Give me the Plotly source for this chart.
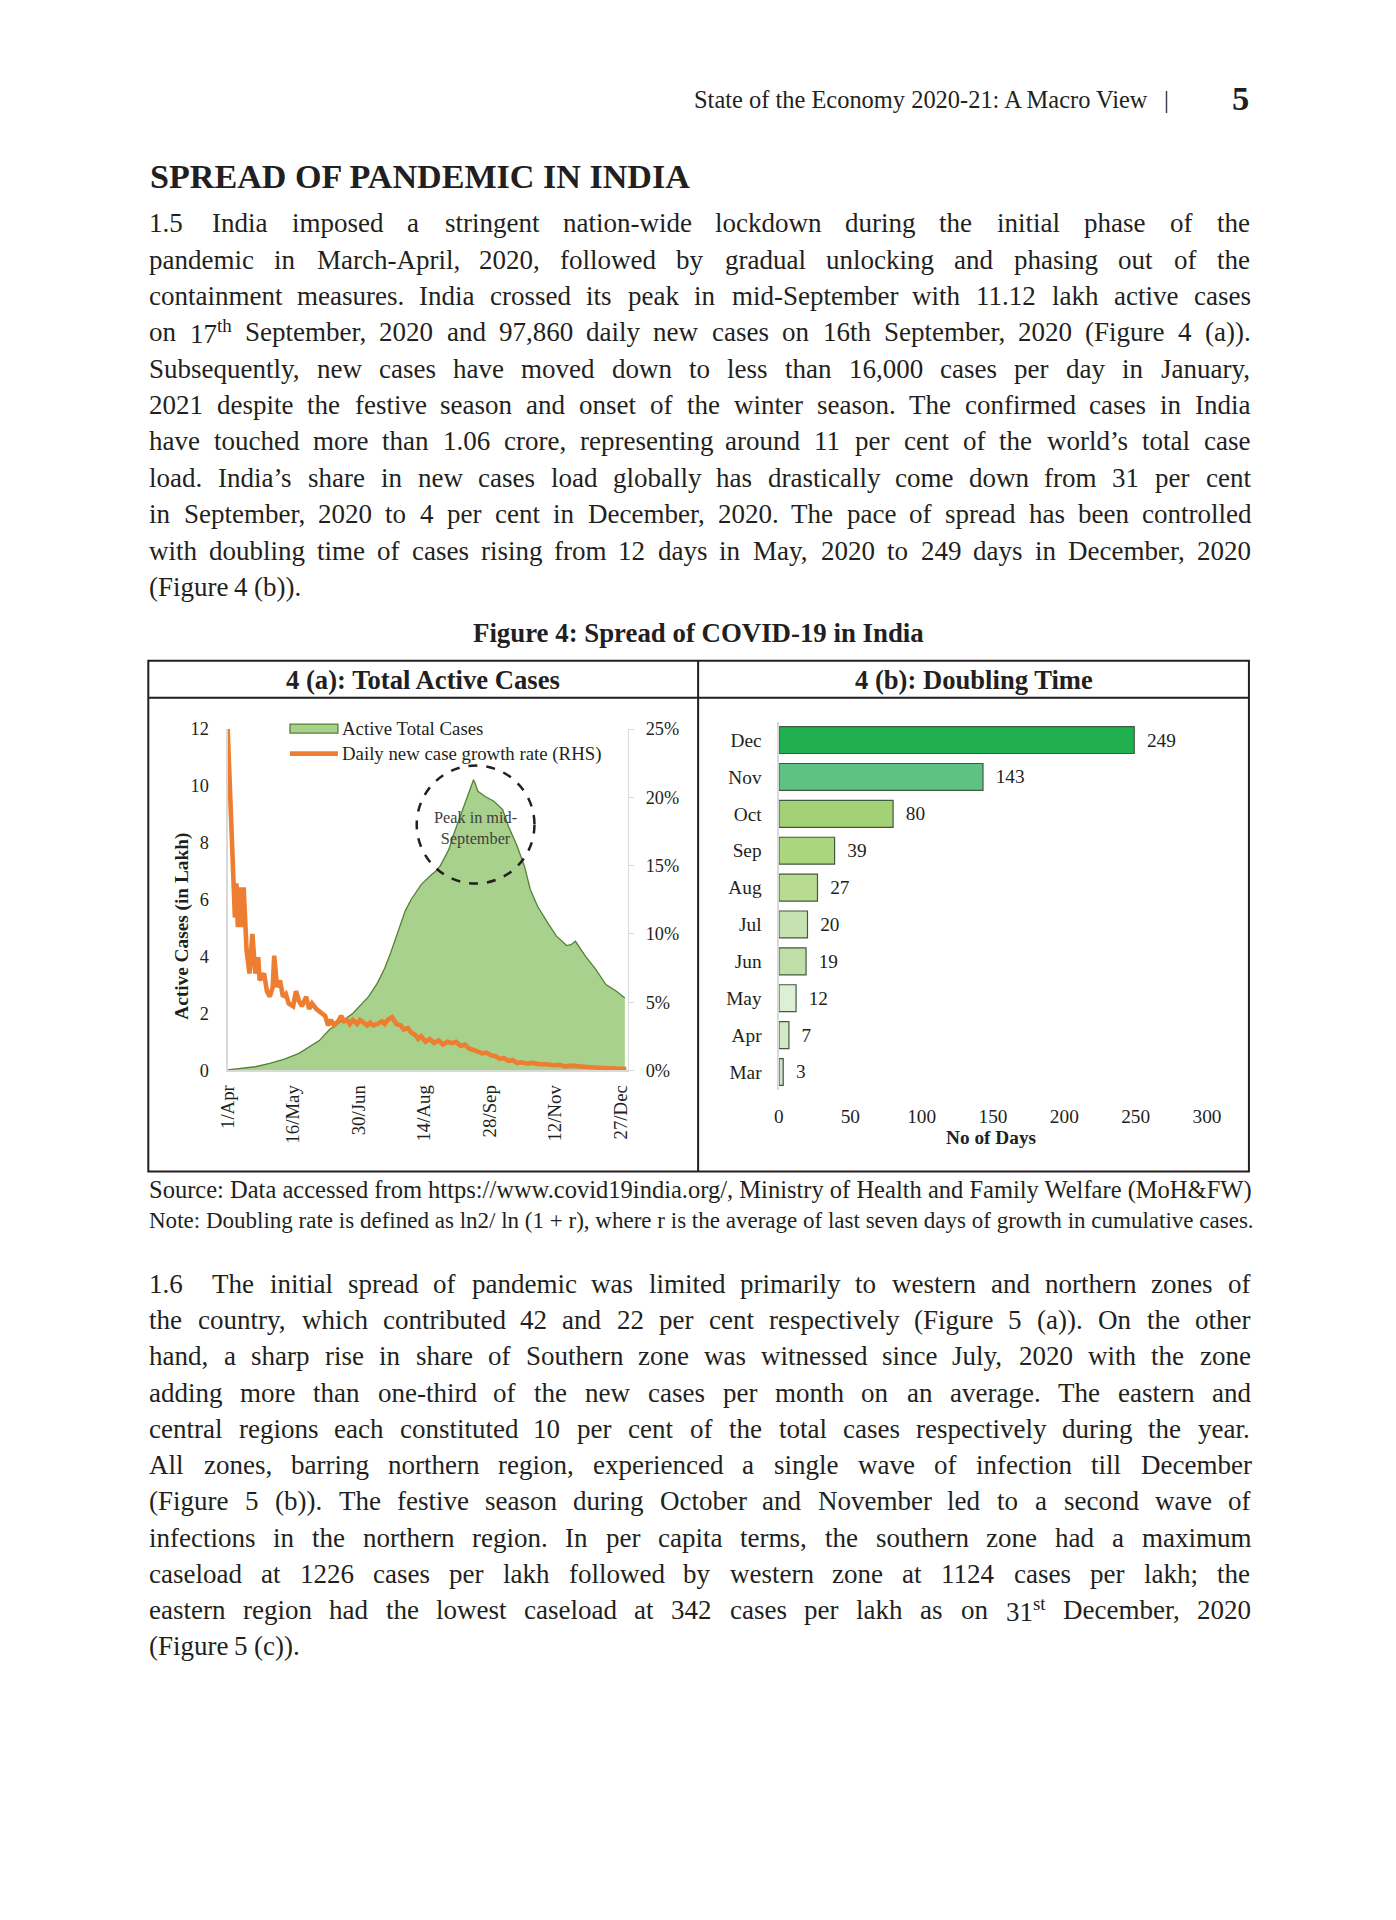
import re
import plotly.graph_objects as go

# Page set-up: the browser keeps its default 8px body margin, so the figure is 16px
# smaller than the 1396x1920 window.  The photographed page was measured (with a
# calibration frame) to show page pixels as image = S * (page + D); all positions
# below are given in reference-image pixels and converted back to page pixels.
PAGE_W, PAGE_H = 1396, 1920
MARGIN = 8
W, H = PAGE_W - 2 * MARGIN, PAGE_H - 2 * MARGIN
SX, SY = 0.984, 0.990
DX, DY = 9.7, 10.2
SERIF = "Liberation Serif"
INK = "#231F20"

# ---------------- Figure 4(a): Total Active Cases ----------------
active_dates = ["2020-04-01", "2020-04-10", "2020-04-20", "2020-04-30", "2020-05-10", "2020-05-20",
                "2020-05-28", "2020-06-03", "2020-06-10", "2020-06-15", "2020-06-20", "2020-06-26",
                "2020-07-01", "2020-07-07", "2020-07-13", "2020-07-18", "2020-07-22", "2020-07-26",
                "2020-07-29", "2020-08-01", "2020-08-05", "2020-08-12", "2020-08-19", "2020-08-22",
                "2020-08-25", "2020-08-28", "2020-08-31", "2020-09-03", "2020-09-07", "2020-09-10",
                "2020-09-14", "2020-09-17", "2020-09-18", "2020-09-20", "2020-09-25", "2020-10-01",
                "2020-10-07", "2020-10-11", "2020-10-17", "2020-10-22", "2020-10-26", "2020-10-31",
                "2020-11-07", "2020-11-13", "2020-11-20", "2020-11-23", "2020-11-26", "2020-12-03",
                "2020-12-10", "2020-12-17", "2020-12-24", "2020-12-30"]
active_lakh = [0.02, 0.06, 0.13, 0.25, 0.40, 0.60, 0.85, 1.05, 1.44, 1.60, 1.79, 2.00,
               2.26, 2.60, 3.08, 3.60, 4.13, 4.70, 5.19, 5.60, 6.00, 6.53, 6.88, 7.00,
               7.18, 7.45, 7.76, 8.25, 8.82, 9.25, 9.75, 10.22, 10.10, 9.81, 9.63, 9.46,
               9.17, 8.58, 7.88, 7.18, 6.36, 5.77, 5.19, 4.72, 4.39, 4.42, 4.54, 4.01,
               3.55, 3.02, 2.79, 2.55]

growth_dates = ["2020-04-01", "2020-04-03", "2020-04-05", "2020-04-06", "2020-04-07", "2020-04-08",
                "2020-04-10", "2020-04-11", "2020-04-12", "2020-04-14", "2020-04-16", "2020-04-18",
                "2020-04-20", "2020-04-22", "2020-04-23", "2020-04-26", "2020-04-28", "2020-04-30",
                "2020-05-02", "2020-05-03", "2020-05-05", "2020-05-07", "2020-05-09", "2020-05-11",
                "2020-05-13", "2020-05-16", "2020-05-18", "2020-05-20", "2020-05-22", "2020-05-25",
                "2020-05-27", "2020-05-29", "2020-06-01", "2020-06-04", "2020-06-07", "2020-06-09",
                "2020-06-11", "2020-06-13", "2020-06-16", "2020-06-18", "2020-06-20", "2020-06-22",
                "2020-06-24", "2020-06-26", "2020-06-29", "2020-07-01", "2020-07-03", "2020-07-06",
                "2020-07-08", "2020-07-10", "2020-07-13", "2020-07-16", "2020-07-18", "2020-07-20",
                "2020-07-23", "2020-07-26", "2020-07-29", "2020-07-31", "2020-08-03", "2020-08-05",
                "2020-08-08", "2020-08-10", "2020-08-12", "2020-08-15", "2020-08-18", "2020-08-21",
                "2020-08-24", "2020-08-27", "2020-08-30", "2020-09-02", "2020-09-05", "2020-09-08",
                "2020-09-11", "2020-09-14", "2020-09-17", "2020-09-20", "2020-09-23", "2020-09-26",
                "2020-09-29", "2020-10-02", "2020-10-05", "2020-10-08", "2020-10-11", "2020-10-14",
                "2020-10-17", "2020-10-20", "2020-10-24", "2020-10-28", "2020-11-01", "2020-11-06",
                "2020-11-11", "2020-11-15", "2020-11-19", "2020-11-23", "2020-11-28", "2020-12-04",
                "2020-12-11", "2020-12-18", "2020-12-25", "2020-12-31"]
growth_pct = [25.0, 20.2, 15.3, 11.2, 13.7, 10.5,
              13.4, 10.5, 13.4, 8.8, 7.1, 10.0,
              7.1, 8.3, 6.6, 7.1, 5.8, 5.4,
              6.1, 8.4, 6.1, 6.6, 5.4, 5.6,
              4.9, 4.7, 5.8, 5.1, 4.7, 5.4,
              4.5, 4.9, 4.5, 4.2, 4.0, 3.3,
              3.7, 3.3, 3.6, 4.0, 3.6, 3.7,
              3.4, 3.7, 3.4, 3.7, 3.5, 3.3,
              3.5, 3.3, 3.4, 3.6, 3.4, 3.7,
              3.9, 3.4, 3.3, 3.0, 3.1, 2.8,
              2.6, 2.3, 2.5, 2.1, 2.3, 2.0,
              2.2, 1.9, 2.1, 2.0, 2.1, 1.8,
              1.9, 1.6, 1.5, 1.4, 1.25, 1.3,
              1.1, 1.05, 0.85, 0.9, 0.7, 0.75,
              0.55, 0.6, 0.5, 0.55, 0.45, 0.45,
              0.38, 0.42, 0.3, 0.35, 0.28, 0.25,
              0.2, 0.15, 0.12, 0.1]

xtick_dates = ["2020-04-01", "2020-05-16", "2020-06-30", "2020-08-14", "2020-09-28", "2020-11-12", "2020-12-27"]
xtick_text = ["1/Apr", "16/May", "30/Jun", "14/Aug", "28/Sep", "12/Nov", "27/Dec"]
legend_labels = ["Active Total Cases", "Daily new case growth rate (RHS)"]

# ---------------- Figure 4(b): Doubling Time ----------------
months = ["Mar", "Apr", "May", "Jun", "Jul", "Aug", "Sep", "Oct", "Nov", "Dec"]
doubling_days = [3, 7, 12, 19, 20, 27, 39, 80, 143, 249]
bar_colors = ["#D5E0D3", "#D4EAC6", "#DDEFD4", "#BFDEA8", "#C6E2B0",
              "#B7DC91", "#ACD67E", "#A3D276", "#5EC285", "#21B04F"]

# ---------------- Page text ----------------
header_text = "State of the Economy 2020-21: A Macro View"
page_number = "5"
section_title = "SPREAD OF PANDEMIC IN INDIA"
para_15 = [
    "1.5 India imposed a stringent nation-wide lockdown during the initial phase of the",
    "pandemic in March-April, 2020, followed by gradual unlocking and phasing out of the",
    "containment measures. India crossed its peak in mid-September with 11.12 lakh active cases",
    "on 17<sup>th</sup> September, 2020 and 97,860 daily new cases on 16th September, 2020 (Figure 4 (a)).",
    "Subsequently, new cases have moved down to less than 16,000 cases per day in January,",
    "2021 despite the festive season and onset of the winter season. The confirmed cases in India",
    "have touched more than 1.06 crore, representing around 11 per cent of the world\u2019s total case",
    "load. India\u2019s share in new cases load globally has drastically come down from 31 per cent",
    "in September, 2020 to 4 per cent in December, 2020. The pace of spread has been controlled",
    "with doubling time of cases rising from 12 days in May, 2020 to 249 days in December, 2020",
    "(Figure 4 (b)).",
]
para_16 = [
    "1.6 The initial spread of pandemic was limited primarily to western and northern zones of",
    "the country, which contributed 42 and 22 per cent respectively (Figure 5 (a)). On the other",
    "hand, a sharp rise in share of Southern zone was witnessed since July, 2020 with the zone",
    "adding more than one-third of the new cases per month on an average. The eastern and",
    "central regions each constituted 10 per cent of the total cases respectively during the year.",
    "All zones, barring northern region, experienced a single wave of infection till December",
    "(Figure 5 (b)). The festive season during October and November led to a second wave of",
    "infections in the northern region. In per capita terms, the southern zone had a maximum",
    "caseload at 1226 cases per lakh followed by western zone at 1124 cases per lakh; the",
    "eastern region had the lowest caseload at 342 cases per lakh as on 31<sup>st</sup> December, 2020",
    "(Figure 5 (c)).",
]
figure_title = "Figure 4: Spread of COVID-19 in India"
panel_a_title = "4 (a): Total Active Cases"
panel_b_title = "4 (b): Doubling Time"
source_text = "Source: Data accessed from https://www.covid19india.org/, Ministry of Health and Family Welfare (MoH&FW)"
note_text = "Note: Doubling rate is defined as ln2/ ln (1 + r), where r is the average of last seven days of growth in cumulative cases."

# ---------------- text metrics (Times / Liberation Serif widths, 1/1000 em) ----------------
REG = dict(zip("abcdefghijklmnopqrstuvwxyz",
               [444, 500, 444, 500, 444, 333, 500, 500, 278, 278, 500, 278, 778, 500, 500, 500, 500, 333, 389, 278, 500, 500, 722, 500, 500, 444]))
REG.update(zip("ABCDEFGHIJKLMNOPQRSTUVWXYZ",
               [722, 667, 667, 722, 611, 556, 722, 722, 333, 389, 722, 611, 889, 722, 722, 556, 722, 667, 556, 611, 722, 722, 944, 722, 722, 611]))
REG.update({c: 500 for c in "0123456789"})
REG.update({" ": 250, ".": 250, ",": 250, ":": 278, ";": 278, "-": 333, "(": 333, ")": 333,
            "/": 278, "&": 778, "+": 564, "%": 833, "\u2019": 333, "'": 180, "|": 200})
BOLD = dict(zip("abcdefghijklmnopqrstuvwxyz",
                [500, 556, 444, 556, 444, 333, 500, 556, 278, 333, 556, 278, 833, 556, 500, 556, 556, 444, 389, 333, 556, 500, 722, 500, 500, 444]))
BOLD.update(zip("ABCDEFGHIJKLMNOPQRSTUVWXYZ",
                [722, 667, 722, 722, 667, 611, 778, 778, 389, 500, 778, 667, 944, 722, 778, 611, 778, 722, 556, 667, 722, 722, 1000, 722, 722, 667]))
BOLD.update({c: 500 for c in "0123456789"})
BOLD.update({" ": 250, ".": 250, ",": 250, ":": 333, "-": 333, "(": 333, ")": 333, "%": 1000})


def em_width(text, bold=False):
    table = BOLD if bold else REG
    total, scale = 0.0, 1.0
    for part in re.split(r"(</?sup>)", text):
        if part == "<sup>":
            scale = 0.7
        elif part == "</sup>":
            scale = 1.0
        else:
            total += sum(table.get(ch, 500) for ch in part) * scale
    return total / 1000.0


def X(img):
    """reference-image x pixel -> paper fraction"""
    return (img / SX - DX - MARGIN) / W


def Y(img):
    return 1 - (img / SY - DY - MARGIN) / H


def FS(size_img):
    """apparent (image) font size -> font size on the page"""
    return size_img / SX


annotations = []


def add_text(text, x, y, size, bold=False, xanchor="left", color=INK, angle=0):
    annotations.append(dict(
        text=f"<b>{text}</b>" if bold else text, x=X(x), y=Y(y), xref="paper", yref="paper",
        xanchor=xanchor, yanchor="middle", showarrow=False, borderpad=0, textangle=angle,
        font=dict(family=SERIF, size=FS(size), color=color)))


def add_paragraph(lines, y0, pitch, size, x0=147.0, x1=1250.0, tab=30.0):
    for i, line in enumerate(lines):
        y = y0 + i * pitch
        words = line.split()
        widths = [em_width(w) * size for w in words]
        start = 0
        x = x0
        if i == 0:
            add_text(words[0], x0, y, size)
            x = x0 + widths[0] + tab
            start = 1
        rest, rw = words[start:], widths[start:]
        if i == len(lines) - 1 or len(rest) < 2:
            gap = 0.25 * size
        else:
            gap = (x1 - x - sum(rw)) / (len(rest) - 1)
        for w, wd in zip(rest, rw):
            add_text(w, x, y, size)
            x += wd + gap


def fit(text, target, bold=False):
    return target / em_width(text, bold)


# ---------------- page texts ----------------
add_text(header_text, 1150, 100, fit(header_text, 451), xanchor="right")
add_text("|", 1167, 100, 24, xanchor="center")
add_text(page_number, 1242, 98, 34, bold=True, xanchor="center")
add_text(section_title, 148, 177, fit(section_title, 535, True), bold=True)
BODY = 26.6
add_paragraph(para_15, 223.5, 36.37, BODY)
add_paragraph(para_16, 1284.6, 36.25, BODY)
add_text(figure_title, 698.6, 633, fit(figure_title, 444.5, True), bold=True, xanchor="center")
add_text(panel_a_title, 422.5, 680, fit(panel_a_title, 274, True), bold=True, xanchor="center")
add_text(panel_b_title, 974.5, 680, fit(panel_b_title, 235, True), bold=True, xanchor="center")
add_text(source_text, 147, 1191, fit(source_text, 1090))
add_text(note_text, 147, 1221, fit(note_text, 1088))

# chart annotations
add_text("Active Cases (in Lakh)", 180, 927, 19, bold=True, xanchor="center", angle=-90)
add_text("Peak in mid-<br>September", 475, 829, 16, xanchor="center", color="#404040")
add_text("No of Days", 992, 1138, 19, bold=True, xanchor="center")
add_text(legend_labels[0], 340, 729, 18.5)
add_text(legend_labels[1], 340, 754, 18.5)

# ---------------- figure ----------------
fig = go.Figure()
fig.add_trace(go.Scatter(
    x=active_dates, y=active_lakh, name=legend_labels[0], mode="lines",
    fill="tozeroy", fillcolor="#A9D18E", line=dict(color="#548235", width=1.3),
    xaxis="x", yaxis="y", hoverinfo="skip", showlegend=False))
fig.add_trace(go.Scatter(
    x=growth_dates, y=[v / 100 for v in growth_pct], name=legend_labels[1],
    mode="lines", line=dict(color="#ED7D31", width=4.6), xaxis="x", yaxis="y2",
    hoverinfo="skip", showlegend=False))
fig.add_trace(go.Bar(
    y=months, x=doubling_days, orientation="h", showlegend=False,
    marker=dict(color=bar_colors, line=dict(color="#3F5A3F", width=1.2)),
    text=doubling_days, texttemplate="\u2002%{x}", textposition="outside", cliponaxis=False,
    textfont=dict(family=SERIF, size=FS(19), color=INK), xaxis="x2", yaxis="y3", hoverinfo="skip"))

shapes = [
    # frame, header rule and divider of Figure 4
    dict(type="rect", xref="paper", yref="paper", x0=X(147), x1=X(1250), y0=Y(1172), y1=Y(661),
         line=dict(color=INK, width=2)),
    dict(type="line", xref="paper", yref="paper", x0=X(147), x1=X(1250), y0=Y(698), y1=Y(698),
         line=dict(color=INK, width=2)),
    dict(type="line", xref="paper", yref="paper", x0=X(698), x1=X(698), y0=Y(1172), y1=Y(661),
         line=dict(color=INK, width=2)),
    # dashed "peak" circle
    dict(type="circle", xref="paper", yref="paper", x0=X(416), x1=X(534), y0=Y(884), y1=Y(766),
         line=dict(color=INK, width=2.5, dash="dash")),
    # legend keys of Figure 4(a)
    dict(type="rect", xref="paper", yref="paper", x0=X(289), x1=X(337), y0=Y(733.5), y1=Y(724.5),
         fillcolor="#A9D18E", line=dict(color="#548235", width=1.3)),
    dict(type="line", xref="paper", yref="paper", x0=X(289), x1=X(337), y0=Y(754), y1=Y(754),
         line=dict(color="#ED7D31", width=4.6)),
]

AX = "#D9D9D9"
fig.update_layout(
    width=W, height=H, margin=dict(l=0, r=0, t=0, b=0), autosize=False,
    paper_bgcolor="white", plot_bgcolor="rgba(0,0,0,0)",
    font=dict(family=SERIF, color=INK, size=FS(18)),
    hovermode=False, bargap=0.27, showlegend=False,
    xaxis=dict(domain=[X(226.5), X(627.5)], type="date", range=["2020-04-01", "2021-01-01"],
               tickvals=xtick_dates, ticktext=xtick_text, tickangle=-90, ticks="",
               showline=True, linecolor=AX, linewidth=1.2, showgrid=False, zeroline=False,
               tickfont=dict(size=FS(18.5)), anchor="y", ticklabelstandoff=6),
    yaxis=dict(domain=[Y(1071), Y(729.4)], range=[0, 12], dtick=2, tick0=0, ticks="",
               showline=True, linecolor=AX, linewidth=1.2, showgrid=False, zeroline=False,
               tickfont=dict(size=FS(18)), anchor="x", ticklabelstandoff=14),
    yaxis2=dict(overlaying="y", side="right", anchor="x", range=[0, 0.25], dtick=0.05, tick0=0,
                tickformat=".0%", showline=True, linecolor=AX, linewidth=1.2, ticks="outside",
                ticklen=5, tickcolor=AX, showgrid=False, zeroline=False,
                tickfont=dict(size=FS(18)), ticklabelstandoff=8),
    xaxis2=dict(domain=[X(779), X(1208)], range=[0, 300], dtick=50, tick0=0, anchor="y3",
                showgrid=False, zeroline=False, showline=False, ticks="",
                tickfont=dict(size=FS(19)), ticklabelstandoff=12),
    yaxis3=dict(domain=[Y(1091), Y(722)], anchor="x2", type="category", categoryorder="array",
                categoryarray=months, range=[-0.5, 9.5], showline=True, linecolor=AX, linewidth=1.5,
                ticks="", showgrid=False, zeroline=False, tickfont=dict(size=FS(19)), ticklabelstandoff=12),
    shapes=shapes,
    annotations=annotations,
)

fig.write_html("out.html", config={"displayModeBar": False, "staticPlot": True})
